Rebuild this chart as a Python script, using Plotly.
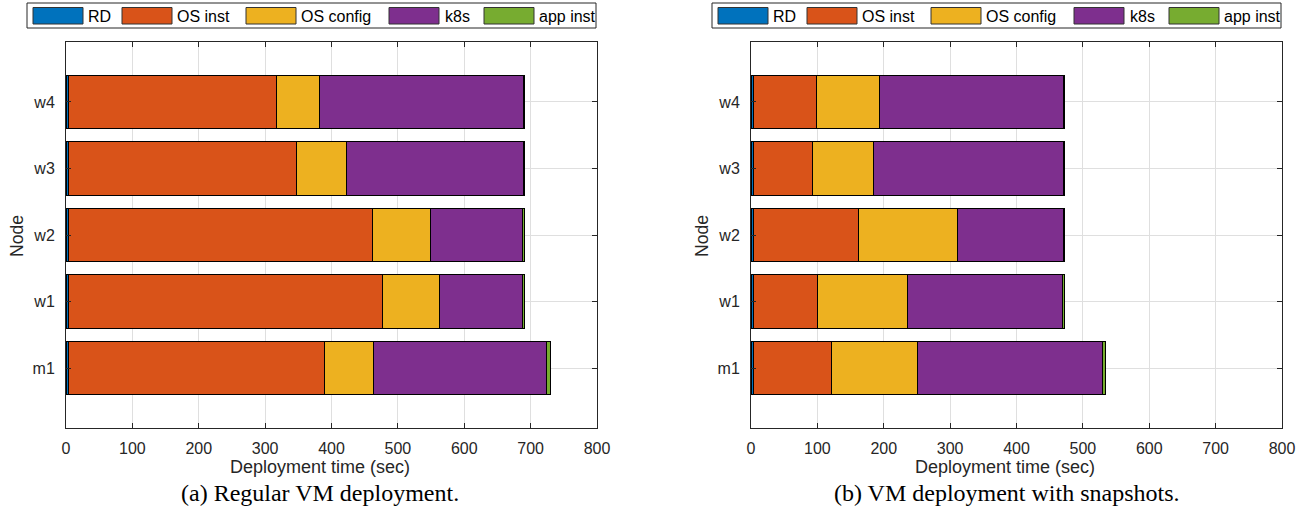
import plotly.graph_objects as go

W, H = 1302, 522

nodes = ["m1", "w1", "w2", "w3", "w4"]
series = ["RD", "OS inst", "OS config", "k8s", "app inst"]
colors = ["#0072BD", "#D95319", "#EDB120", "#7E2F8E", "#77AC30"]

# (a) Regular VM deployment  (seconds, order m1, w1, w2, w3, w4)
reg_rd = [4, 4, 4, 4, 4]
reg_os_inst = [385.5, 473.5, 458.4, 343.8, 313.0]
reg_os_config = [74.5, 84.5, 87.4, 74.6, 64.8]
reg_k8s = [260.0, 125.2, 138.6, 267.1, 307.7]
reg_app_inst = [5.5, 3.4, 2.0, 1.0, 1.5]

# (b) VM deployment with snapshots
snap_rd = [4, 4, 4, 4, 4]
snap_os_inst = [118.0, 96.4, 158.0, 89.3, 94.3]
snap_os_config = [129.5, 135.9, 148.6, 90.8, 95.9]
snap_k8s = [278.0, 232.8, 159.5, 286.5, 277.0]
snap_app_inst = [5.0, 3.0, 1.5, 1.0, 1.0]

x_ticks = [0, 100, 200, 300, 400, 500, 600, 700, 800]
x_title = "Deployment time (sec)"
y_title = "Node"
captions = ["(a) Regular VM deployment.", "(b) VM deployment with snapshots."]

reg = [reg_rd, reg_os_inst, reg_os_config, reg_k8s, reg_app_inst]
snap = [snap_rd, snap_os_inst, snap_os_config, snap_k8s, snap_app_inst]

# panel geometry in window pixels
panels = [
    dict(x0=66, x1=597, data=reg, xa="x", ya="y"),
    dict(x0=751, x1=1282, data=snap, xa="x2", ya="y2"),
]
top, bottom = 42, 428

FONT = "Liberation Sans, Arial, sans-serif"
AX = "#262626"
GRID = "#dfdfdf"

fig = go.Figure()
for p in panels:
    for name, vals, col in zip(series, p["data"], colors):
        fig.add_trace(go.Bar(
            y=nodes, x=vals, name=name, orientation="h",
            marker=dict(color=col, line=dict(color="black", width=1)),
            xaxis=p["xa"], yaxis=p["ya"], showlegend=False, width=0.8,
        ))

def px(v):
    return v / W

def py(v):
    return 1 - v / H

axis_common = dict(
    showline=True, linecolor=AX, linewidth=1, mirror="ticks",
    ticks="inside", ticklen=5, tickcolor=AX, tickwidth=1,
    showgrid=True, gridcolor=GRID, gridwidth=1, zeroline=False,
    automargin=False,
    tickfont=dict(family=FONT, size=16, color=AX),
)

layout = dict(
    template="none",
    width=W, height=H, margin=dict(l=0, r=0, t=0, b=0, pad=0),
    plot_bgcolor="white", paper_bgcolor="white",
    barmode="stack", showlegend=False,
    font=dict(family=FONT, color=AX),
)
for i, p in enumerate(panels):
    sx = "" if i == 0 else "2"
    layout["xaxis" + sx] = dict(
        axis_common, domain=[px(p["x0"]), px(p["x1"])], range=[0, 800],
        tickvals=x_ticks, ticktext=[str(t) for t in x_ticks],
        anchor="y" + sx, ticklabelstandoff=6,
    )
    layout["yaxis" + sx] = dict(
        axis_common, domain=[py(bottom), py(top)], range=[-0.9, 4.9],
        type="category", categoryorder="array", categoryarray=nodes,
        anchor="x" + sx, ticklabelstandoff=7,
    )
fig.update_layout(**layout)

shapes = []
annotations = []
# manual legends (MATLAB-style wide swatches)
sw_x = [33, 122, 246, 389, 484]
tx_x = [86, 175, 299, 443, 537]
for i, p in enumerate(panels):
    off = p["x0"] - 66
    shapes.append(dict(type="rect", xref="paper", yref="paper",
                       x0=px(27 + off), x1=px(596 + off), y0=py(28), y1=py(3),
                       line=dict(color=AX, width=1), fillcolor="white", layer="above"))
    for name, col, sx_, tx_ in zip(series, colors, sw_x, tx_x):
        shapes.append(dict(type="rect", xref="paper", yref="paper",
                           x0=px(sx_ + off), x1=px(sx_ + 50 + off), y0=py(24), y1=py(7.5),
                           line=dict(color="#333333", width=1), fillcolor=col, layer="above"))
        annotations.append(dict(xref="paper", yref="paper", x=px(tx_ + off), y=py(16),
                                xanchor="left", yanchor="middle", showarrow=False,
                                text=name, font=dict(family=FONT, size=16, color="black")))
    # axis titles
    annotations.append(dict(xref="paper", yref="paper", x=px(319.5 + off), y=py(467),
                            xanchor="center", yanchor="middle", showarrow=False,
                            text=x_title, font=dict(family=FONT, size=18, color=AX)))
    annotations.append(dict(xref="paper", yref="paper", x=px(17 + off), y=py(236),
                            xanchor="center", yanchor="middle", showarrow=False, textangle=-90,
                            text=y_title, font=dict(family=FONT, size=17.6, color=AX)))
    # captions
    annotations.append(dict(xref="paper", yref="paper", x=px([320, 1007][i]), y=py(493),
                            xanchor="center", yanchor="middle", showarrow=False,
                            text=captions[i],
                            font=dict(family="Liberation Serif, Times New Roman, serif", size=24, color="black")))

fig.update_layout(shapes=shapes, annotations=annotations)
fig.write_html(
    "out.html",
    config={"displayModeBar": False},
    post_script="document.body.style.margin='0';document.body.style.overflow='hidden';",
)
